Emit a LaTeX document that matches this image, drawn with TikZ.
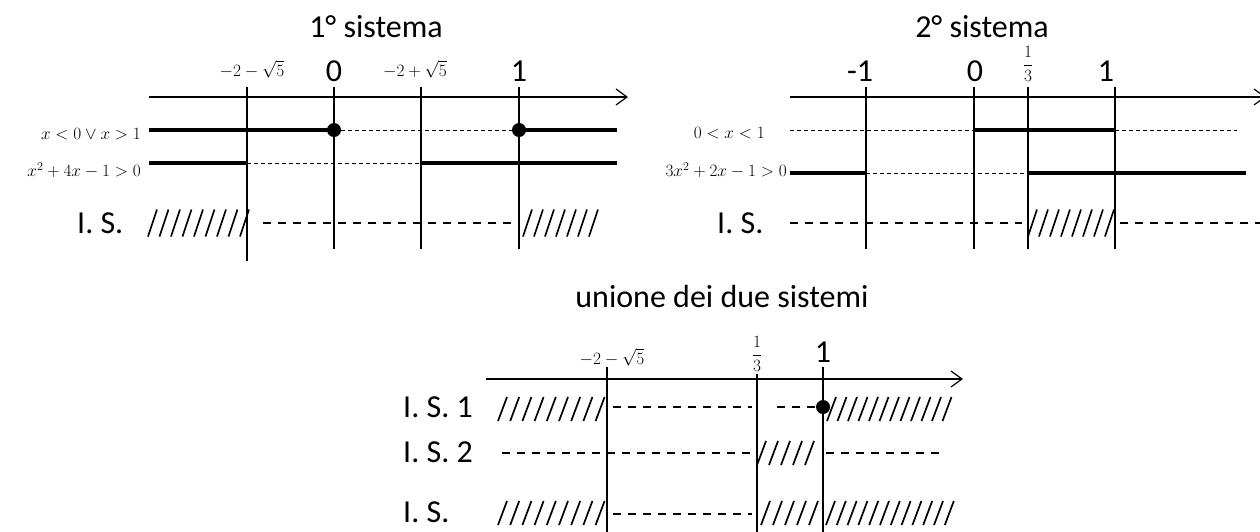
\documentclass[tikz,border=0pt]{standalone}
\usepackage{fontspec}
\setmainfont{Carlito}
\usepackage{amsmath}
\usetikzlibrary{arrows.meta}

\tikzset{
  axis/.style={line width=1.2pt,-{Straight Barb[length=11pt,width=16pt,line width=1.2pt]}},
  tick/.style={line width=1.1pt},
  sol/.style={line width=4.5pt},
  nosol/.style={line width=0.9pt,dash pattern=on 4pt off 3pt},
  isdash/.style={line width=1.5pt,dash pattern=on 8pt off 7pt},
  slash/.style={line width=1.7pt},
  title/.style={font=\fontsize{32}{36}\selectfont,inner sep=0pt},
  lab/.style={font=\fontsize{32}{36}\selectfont,inner sep=0pt},
  mlab/.style={font=\fontsize{18}{22}\selectfont,inner sep=0pt},
  dot/.style={circle,fill=black,inner sep=0pt,minimum size=14pt}
}
% slashes: first x, step, how many, row y (height in \slh)
\def\slh{27}
\newcommand{\slashes}[4]{%
  \foreach \k in {1,...,#3}
    \draw[slash] ({#1+(\k-1)*#2},{#4+\slh/2}) -- ++(9,-\slh);}

\begin{document}
\begin{tikzpicture}[x=1pt,y=-1pt]
\useasboundingbox (0,0) rectangle (1260,531);

% 1st system
\node[title,anchor=base] (t1) at (376,37) {1° sistema};
\draw[axis] (149,97) -- (628,97);
\node[mlab,anchor=base] (a1) at (252,76) {$-2-\sqrt{5}$};
\node[lab,anchor=base] (a2) at (334,81) {0};
\node[mlab,anchor=base] (a3) at (415,76) {$-2+\sqrt{5}$};
\node[lab,anchor=base] (a4) at (519,81) {1};
\draw[tick] (247,87) -- (247,261);
\draw[tick] (334,87) -- (334,249);
\draw[tick] (421,87) -- (421,249);
\draw[tick] (519,87) -- (519,249);
\node[mlab,anchor=east] (r1) at (141,134) {$x<0\vee x>1$};
\node[mlab,anchor=east] (r2) at (141,170) {$x^2+4x-1>0$};
\draw[sol] (149,130) -- (334,130);
\draw[nosol] (334,130) -- (519,130);
\draw[sol] (519,130) -- (617,130);
\node[dot] (d1) at (334,130) {};
\node[dot] (d2) at (519,130) {};
\draw[sol] (149,163) -- (247,163);
\draw[nosol] (247,163) -- (421,163);
\draw[sol] (421,163) -- (617,163);
\node[lab,anchor=base west] (s1) at (77,233) {I. S.};
\slashes{148}{11.5}{9}{223}
\draw[isdash] (263,223) -- (515,223);
\slashes{523}{11}{7}{223}

% 2nd system
\node[title,anchor=base] (t2) at (982,37) {2° sistema};
\draw[axis] (790,97) -- (1266,97);
\node[lab,anchor=base] (b1) at (860,81) {-1};
\node[lab,anchor=base] (b2) at (975,81) {0};
\node[mlab] (b3) at (1028,64) {$\dfrac{1}{3}$};
\node[lab,anchor=base] (b4) at (1106,81) {1};
\draw[tick] (866,87) -- (866,249);
\draw[tick] (974,87) -- (974,249);
\draw[tick] (1028,87) -- (1028,249);
\draw[tick] (1115,87) -- (1115,249);
\node[mlab,anchor=east] (q1) at (765,133) {$0<x<1$};
\node[mlab,anchor=east] (q2) at (787,170) {$3x^2+2x-1>0$};
\draw[nosol] (790,130) -- (974,130);
\draw[sol] (974,130) -- (1115,130);
\draw[nosol] (1115,130) -- (1237,130);
\draw[sol] (790,173) -- (866,173);
\draw[nosol] (866,173) -- (1028,173);
\draw[sol] (1028,173) -- (1246,173);
\node[lab,anchor=base west] (s2) at (717,233) {I. S.};
\draw[isdash] (790,223) -- (1022,223);
\slashes{1028}{11}{8}{223}
\draw[isdash] (1120,223) -- (1262,223);

% union
\def\slh{24}
\node[title,anchor=base] (t3) at (722,307) {unione dei due sistemi};
\draw[axis] (486,379) -- (963,379);
\node[mlab,anchor=base] (c1) at (612,364) {$-2-\sqrt{5}$};
\node[mlab] (c2) at (757,354) {$\dfrac{1}{3}$};
\node[lab,anchor=base] (c3) at (823,362) {1};
\draw[tick] (607,367) -- (607,540);
\draw[tick] (757,374) -- (757,540);
\draw[tick] (823,367) -- (823,540);
\node[lab,anchor=base west] (u1) at (403,417) {I. S. 1};
\node[lab,anchor=base west] (u2) at (403,462) {I. S. 2};
\node[lab,anchor=base west] (u3) at (403,522) {I. S.};
% I.S. 1
\slashes{498}{12.2}{9}{409}
\draw[isdash] (613,407) -- (752,407);
\draw[isdash] (777,407) -- (817,407);
\node[dot] (d3) at (823,407) {};
\slashes{827}{10.5}{12}{409}
% I.S. 2
\draw[isdash] (502,453) -- (752,453);
\slashes{757}{12}{5}{453}
\draw[isdash] (826,453) -- (943,453);
% I.S.
\slashes{498}{12.2}{9}{513}
\draw[isdash] (613,514) -- (752,514);
\slashes{761}{12}{5}{513}
\slashes{826}{10.8}{12}{513}
\end{tikzpicture}
\end{document}
